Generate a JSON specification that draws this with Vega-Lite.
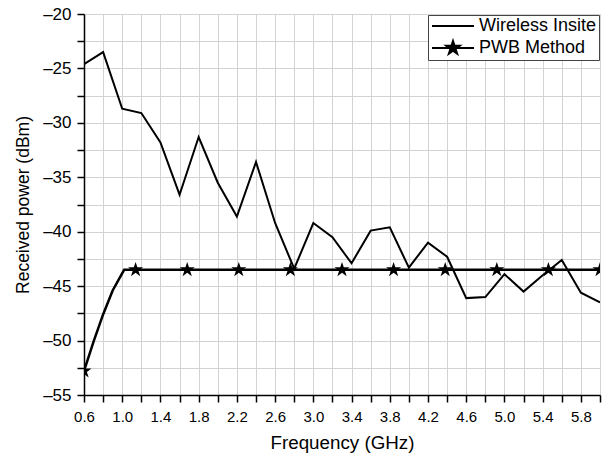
{
  "$schema": "https://vega.github.io/schema/vega-lite/v6.json",
  "width": 516,
  "height": 381,
  "autosize": {"type": "none"},
  "padding": {"left": 84, "top": 14, "right": 9, "bottom": 60},
  "background": "white",
  "config": {
    "view": {"stroke": null},
    "font": "Liberation Sans",
    "axis": {
      "domainColor": "black",
      "domainWidth": 1.5,
      "tickColor": "black",
      "tickWidth": 1.5,
      "tickSize": 7,
      "labelColor": "black",
      "titleColor": "black",
      "titleFontWeight": "normal",
      "gridColor": "#d3d3d3",
      "gridWidth": 1
    }
  },
  "data": {
    "values": [
      {"series": "Wireless Insite", "freq": 0.6, "power": -24.6, "star": false},
      {"series": "Wireless Insite", "freq": 0.8, "power": -23.5, "star": false},
      {"series": "Wireless Insite", "freq": 1.0, "power": -28.7, "star": false},
      {"series": "Wireless Insite", "freq": 1.2, "power": -29.1, "star": false},
      {"series": "Wireless Insite", "freq": 1.4, "power": -31.8, "star": false},
      {"series": "Wireless Insite", "freq": 1.6, "power": -36.6, "star": false},
      {"series": "Wireless Insite", "freq": 1.8, "power": -31.3, "star": false},
      {"series": "Wireless Insite", "freq": 2.0, "power": -35.5, "star": false},
      {"series": "Wireless Insite", "freq": 2.2, "power": -38.6, "star": false},
      {"series": "Wireless Insite", "freq": 2.4, "power": -33.6, "star": false},
      {"series": "Wireless Insite", "freq": 2.6, "power": -39.2, "star": false},
      {"series": "Wireless Insite", "freq": 2.8, "power": -43.4, "star": false},
      {"series": "Wireless Insite", "freq": 3.0, "power": -39.2, "star": false},
      {"series": "Wireless Insite", "freq": 3.2, "power": -40.5, "star": false},
      {"series": "Wireless Insite", "freq": 3.4, "power": -42.9, "star": false},
      {"series": "Wireless Insite", "freq": 3.6, "power": -39.9, "star": false},
      {"series": "Wireless Insite", "freq": 3.8, "power": -39.6, "star": false},
      {"series": "Wireless Insite", "freq": 4.0, "power": -43.3, "star": false},
      {"series": "Wireless Insite", "freq": 4.2, "power": -41.0, "star": false},
      {"series": "Wireless Insite", "freq": 4.4, "power": -42.3, "star": false},
      {"series": "Wireless Insite", "freq": 4.6, "power": -46.1, "star": false},
      {"series": "Wireless Insite", "freq": 4.8, "power": -46.0, "star": false},
      {"series": "Wireless Insite", "freq": 5.0, "power": -43.9, "star": false},
      {"series": "Wireless Insite", "freq": 5.2, "power": -45.5, "star": false},
      {"series": "Wireless Insite", "freq": 5.4, "power": -44.0, "star": false},
      {"series": "Wireless Insite", "freq": 5.6, "power": -42.6, "star": false},
      {"series": "Wireless Insite", "freq": 5.8, "power": -45.6, "star": false},
      {"series": "Wireless Insite", "freq": 6.0, "power": -46.5, "star": false},
      {"series": "PWB Method", "freq": 0.6, "power": -52.8, "star": true},
      {"series": "PWB Method", "freq": 0.7, "power": -50.1, "star": false},
      {"series": "PWB Method", "freq": 0.8, "power": -47.6, "star": false},
      {"series": "PWB Method", "freq": 0.9, "power": -45.4, "star": false},
      {"series": "PWB Method", "freq": 1.02, "power": -43.5, "star": false},
      {"series": "PWB Method", "freq": 1.14, "power": -43.5, "star": true},
      {"series": "PWB Method", "freq": 1.68, "power": -43.5, "star": true},
      {"series": "PWB Method", "freq": 2.22, "power": -43.5, "star": true},
      {"series": "PWB Method", "freq": 2.76, "power": -43.5, "star": true},
      {"series": "PWB Method", "freq": 3.3, "power": -43.5, "star": true},
      {"series": "PWB Method", "freq": 3.84, "power": -43.5, "star": true},
      {"series": "PWB Method", "freq": 4.38, "power": -43.5, "star": true},
      {"series": "PWB Method", "freq": 4.92, "power": -43.5, "star": true},
      {"series": "PWB Method", "freq": 5.46, "power": -43.5, "star": true},
      {"series": "PWB Method", "freq": 6.0, "power": -43.5, "star": true}
    ]
  },
  "encoding": {
    "x": {
      "field": "freq",
      "type": "quantitative",
      "scale": {"domain": [0.6, 6.0], "nice": false, "zero": false},
      "axis": {
        "title": "Frequency (GHz)",
        "titleFontSize": 18.8,
        "titlePadding": 9,
        "labelFontSize": 15,
        "labelPadding": 7,
        "values": [0.6, 0.8, 1.0, 1.2, 1.4, 1.6, 1.8, 2.0, 2.2, 2.4, 2.6, 2.8, 3.0, 3.2, 3.4, 3.6, 3.8, 4.0, 4.2, 4.4, 4.6, 4.8, 5.0, 5.2, 5.4, 5.6, 5.8, 6.0],
        "labelExpr": "round((datum.value - 0.6) / 0.2) % 2 == 0 ? format(datum.value, '.1f') : ''",
        "labelFlush": false,
        "labelOverlap": false,
        "encode": {
          "ticks": {"update": {"y2": {"signal": "round((datum.value - 0.6) / 0.2) % 2 == 0 ? 7 : 4"}}},
          "grid": {"update": {"strokeOpacity": {"signal": "round((datum.value - 0.6) / 0.2) % 2 == 0 ? 1 : 0"}}}
        }
      }
    },
    "y": {
      "field": "power",
      "type": "quantitative",
      "scale": {"domain": [-55, -20], "nice": false, "zero": false},
      "axis": {
        "title": "Received power (dBm)",
        "titleFontSize": 17.5,
        "titlePadding": 10,
        "labelFontSize": 17,
        "labelPadding": 6,
        "values": [-55, -52.5, -50, -47.5, -45, -42.5, -40, -37.5, -35, -32.5, -30, -27.5, -25, -22.5, -20],
        "labelExpr": "datum.value % 5 == 0 ? '\u2013' + format(-datum.value, 'd') : ''",
        "labelFlush": false,
        "labelOverlap": false,
        "encode": {
          "ticks": {"update": {"x2": {"signal": "datum.value % 5 == 0 ? -7 : -4"}}},
          "grid": {"update": {"strokeOpacity": {"signal": "datum.value % 5 == 0 && datum.value > -55 && datum.value < -20 ? 1 : 0"}}}
        }
      }
    }
  },
  "layer": [
    {
      "transform": [{"filter": "datum.series === 'Wireless Insite'"}],
      "mark": {"type": "line", "strokeWidth": 2, "clip": true},
      "encoding": {
        "stroke": {
          "field": "series",
          "type": "nominal",
          "scale": {"domain": ["Wireless Insite", "PWB Method"], "range": ["black", "black"]},
          "legend": {
            "title": null,
            "orient": "top-right",
            "offset": 1,
            "padding": 2,
            "strokeColor": "#444",
            "fillColor": "white",
            "labelFontSize": 18,
            "labelColor": "black",
            "labelOffset": 31,
            "rowPadding": 2,
            "symbolSize": 196,
            "symbolStrokeWidth": 2,
            "encode": {
              "symbols": {
                "update": {
                  "shape": {"signal": "datum.value === 'PWB Method' ? 'M-1,0H5M2,-1L2.2245,-0.309L2.951,-0.309L2.363,0.118L2.588,0.809L2,0.382L1.412,0.809L1.637,0.118L1.049,-0.309L1.7755,-0.309Z' : 'M-1,0H5'"},
                  "fill": {"value": "black"},
                  "stroke": {"value": "black"},
                  "strokeWidth": {"value": 2}
                }
              }
            }
          }
        },
        "order": {"field": "freq", "type": "quantitative"}
      }
    },
    {
      "transform": [{"filter": "datum.series === 'PWB Method'"}],
      "mark": {"type": "line", "strokeWidth": 2.5, "clip": true},
      "encoding": {
        "stroke": {"field": "series", "type": "nominal"},
        "order": {"field": "freq", "type": "quantitative"}
      }
    },
    {
      "transform": [{"filter": "datum.star"}],
      "mark": {
        "type": "point",
        "shape": "M0,-1L0.2245,-0.309L0.951,-0.309L0.363,0.118L0.588,0.809L0,0.382L-0.588,0.809L-0.363,0.118L-0.951,-0.309L-0.2245,-0.309Z",
        "filled": true,
        "color": "black",
        "size": 250,
        "opacity": 1,
        "clip": true
      }
    }
  ]
}
